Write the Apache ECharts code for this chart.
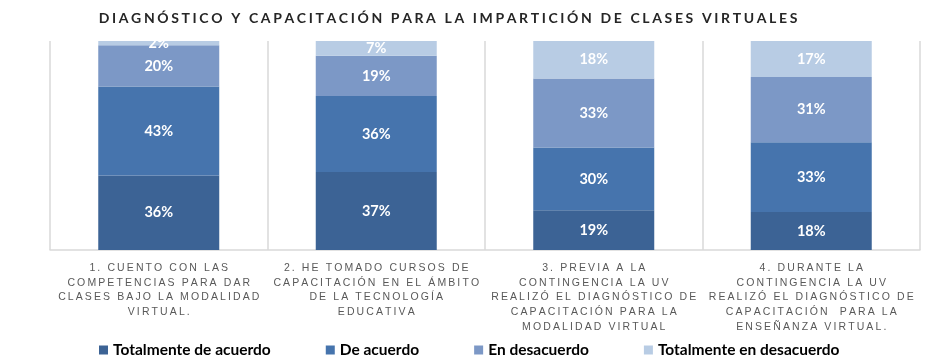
<!DOCTYPE html>
<html>
<head>
<meta charset="UTF-8">
<title>diagnostico</title>
<script src="https://cdn.jsdelivr.net/npm/echarts@6/dist/echarts.min.js"></script>
<style>
	html, body { margin: 0; padding: 0; background: #fff; }
	#chart { width: 949px; height: 363px; }
</style>
</head>
<body>
<div id="chart"></div>
<script type="text/javascript">
	var categories = [
		'1. CUENTO CON LAS\nCOMPETENCIAS PARA DAR\nCLASES BAJO LA MODALIDAD\nVIRTUAL.',
		'2. HE TOMADO CURSOS DE\nCAPACITACIÓN EN EL ÁMBITO\nDE LA TECNOLOGÍA\nEDUCATIVA',
		'3. PREVIA A LA\nCONTINGENCIA LA UV\nREALIZÓ EL DIAGNÓSTICO DE\nCAPACITACIÓN PARA LA\nMODALIDAD VIRTUAL',
		'4. DURANTE LA\nCONTINGENCIA LA UV\nREALIZÓ EL DIAGNÓSTICO DE\nCAPACITACIÓN  PARA LA\nENSEÑANZA VIRTUAL.'
	];
	var seriesNames = ['Totalmente de acuerdo', 'De acuerdo', 'En desacuerdo', 'Totalmente en desacuerdo'];
	var totalmenteAcuerdo = [36, 37, 19, 18];
	var deAcuerdo = [43, 36, 30, 33];
	var enDesacuerdo = [20, 19, 33, 31];
	var totalmenteDesacuerdo = [2, 7, 18, 17];
	var colors = ['#3c6395', '#4674ad', '#7c98c6', '#b8cce4'];

	var raw = [totalmenteAcuerdo, deAcuerdo, enDesacuerdo, totalmenteDesacuerdo];

	// wide letter spacing like the original
	function spaced(s, gap) {
		return s.split('\n').map(function(line) {
			return line.split('').join(gap);
		}).join('\n');
	}

	// 100% stacked: each column fills the plot
	var sums = categories.map(function(c, i) {
		var t = 0;
		for(var k = 0; k < raw.length; k++) t += raw[k][i];
		return t;
	});

	var series = raw.map(function(arr, k) {
		return {
			name: seriesNames[k],
			type: 'bar',
			stack: 'total',
			barWidth: 121,
			itemStyle: { color: colors[k] },
			label: {
				show: true,
				position: 'inside',
				color: '#fff',
				fontFamily: 'Lato',
				fontWeight: 'bold',
				fontSize: 14.5,
				formatter: function(p) { return arr[p.dataIndex] + '%'; }
			},
			data: arr.map(function(v, i) { return v / sums[i] * 100; })
		};
	});

	var myChart = echarts.init(document.getElementById('chart'));
	var option = {
		animation: false,
		title: {
			text: spaced('DIAGNÓSTICO Y CAPACITACIÓN PARA LA IMPARTICIÓN DE CLASES VIRTUALES', '\u2009\u200A'),
			left: 443,
			textAlign: 'center',
			top: 6,
			textStyle: {
				fontFamily: 'Lato',
				fontWeight: 'bold',
				fontSize: 14,
				color: '#262626'
			}
		},
		legend: {
			data: seriesNames,
			left: 99,
			top: 342,
			padding: 0,
			icon: 'rect',
			itemWidth: 9,
			itemHeight: 9,
			itemGap: 55,
			textStyle: {
				fontFamily: 'Lato',
				fontWeight: 'bold',
				fontSize: 15.5,
				color: '#000'
			}
		},
		grid: {
			left: 50,
			right: 29,
			top: 41,
			bottom: 113
		},
		xAxis: {
			type: 'category',
			data: categories.map(function(c) { return spaced(c, '\u2009'); }),
			axisLine: { lineStyle: { color: '#d9d9d9', width: 1.5 } },
			axisTick: { show: false },
			splitLine: { show: true, lineStyle: { color: '#d9d9d9', width: 1.5 } },
			axisLabel: {
				interval: 0,
				margin: 11,
				color: '#595959',
				fontFamily: 'Liberation Sans',
				fontSize: 10.5,
				lineHeight: 14.6
			}
		},
		yAxis: {
			type: 'value',
			min: 0,
			max: 100,
			axisLabel: { show: false },
			axisLine: { show: false },
			axisTick: { show: false },
			splitLine: { show: false }
		},
		series: series
	};
	myChart.setOption(option);
</script>
</body>
</html>
